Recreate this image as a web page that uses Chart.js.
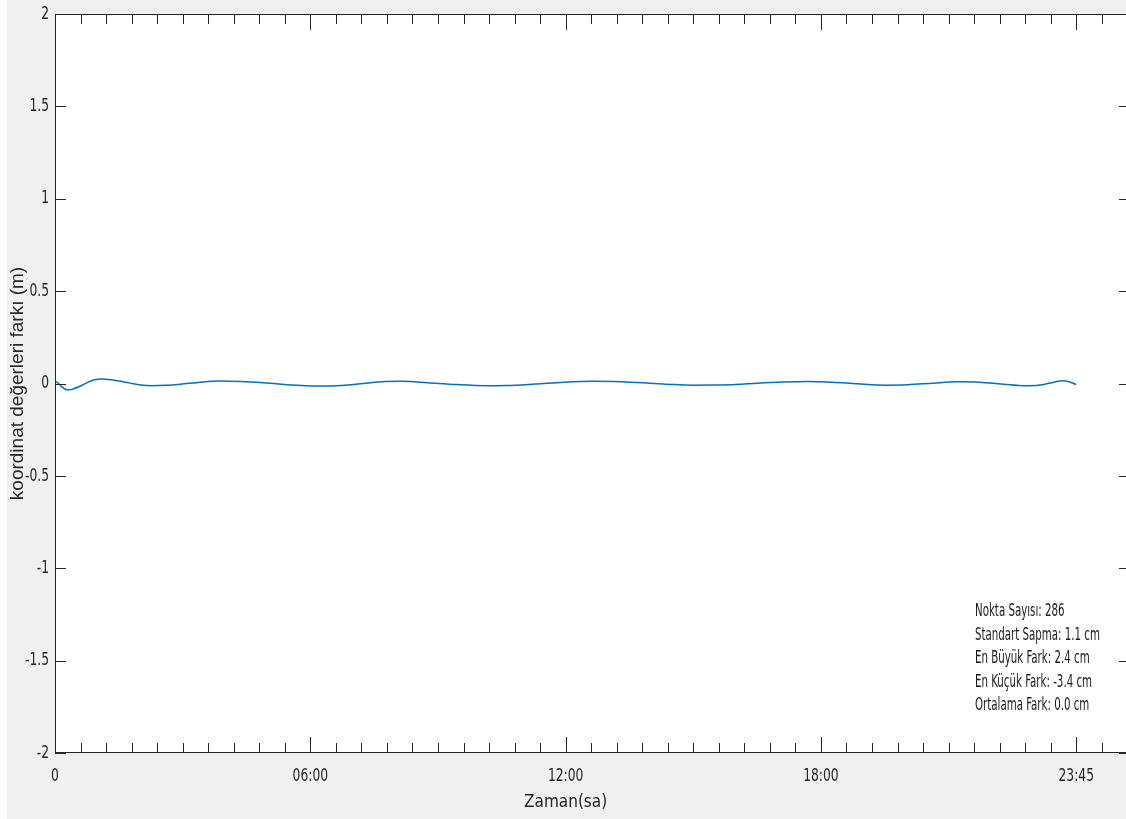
<!DOCTYPE html>
<html><head><meta charset="utf-8">
<script src="https://cdn.jsdelivr.net/npm/chart.js@4"></script>
<style>html,body{margin:0;padding:0;overflow:hidden;background:#fff;width:1126px;height:819px}canvas{display:block}</style>
</head><body><canvas id="c" width="1140" height="819"></canvas>
<script>
// x = sample index (0..285), y = coordinate difference in metres
const xIndex = [0,1,2,3,4,5,7,9,11,13,15,18,21,24,27,31,35,40,46,52,58,64,70,74,80,86,92,97,104,112,120,126,134,142,150,158,166,172,178,184,190,196,203,210,217,224,232,238,245,252,258,264,269,272,276,279,281,283,285];
const diffValues = [0.012,0.0,-0.02,-0.032,-0.034,-0.030,-0.015,0.005,0.020,0.024,0.022,0.013,0.002,-0.008,-0.012,-0.010,-0.004,0.006,0.014,0.011,0.004,-0.005,-0.012,-0.014,-0.011,0.000,0.011,0.012,0.004,-0.006,-0.012,-0.011,-0.003,0.007,0.012,0.010,0.002,-0.005,-0.009,-0.008,-0.005,0.002,0.008,0.011,0.007,-0.002,-0.009,-0.007,0.002,0.009,0.007,-0.003,-0.011,-0.012,-0.005,0.008,0.015,0.010,-0.006];
const yTickValues = [-2,-1.5,-1,-0.5,0,0.5,1,1.5,2];
const yTickLabels = ['-2','-1.5','-1','-0.5','0','0.5','1','1.5','2'];
const xTickValues = [0,71.25,142.5,213.75,285];
const xTickLabels = ['0','06:00','12:00','18:00','23:45'];
const xMinorStep = 7.125;
const statsLines = ['Nokta Sayısı: 286','Standart Sapma: 1.1 cm','En Büyük Fark: 2.4 cm','En Küçük Fark: -3.4 cm','Ortalama Fark: 0.0 cm'];

const NARROW = "'Liberation Sans Narrow','DejaVu Sans Condensed','Arial Narrow',sans-serif";
const AX = '#262626';

const points = xIndex.map((x, i) => ({x: x, y: diffValues[i]}));

function narrowText(ctx, text, x, y, align, sx) {
  ctx.save();
  ctx.translate(x, y);
  ctx.scale(sx, 1);
  ctx.textAlign = align;
  ctx.fillText(text, 0, 0);
  ctx.restore();
}

const framePlugin = {
  id: 'frame',
  beforeDraw(chart) {
    const {ctx, width, height, chartArea: a} = chart;
    ctx.save();
    ctx.fillStyle = '#ffffff';
    ctx.fillRect(0, 0, width, height);
    ctx.fillStyle = '#f0f0f0';
    ctx.fillRect(7, 0, width - 7, height);
    ctx.fillStyle = '#ffffff';
    ctx.fillRect(a.left, a.top, a.right - a.left, a.bottom - a.top);
    ctx.restore();
  },
  afterDraw(chart) {
    const {ctx, chartArea: a, scales} = chart;
    const xs = scales.x, ys = scales.y;
    ctx.save();
    ctx.strokeStyle = AX;
    ctx.lineWidth = 1;
    ctx.strokeRect(a.left + 0.5, a.top + 0.5, a.right - a.left - 1, a.bottom - a.top - 1);
    ctx.beginPath();
    yTickValues.forEach(v => {
      const py = Math.round(ys.getPixelForValue(v)) + 0.5;
      ctx.moveTo(a.left, py); ctx.lineTo(a.left + 11, py);
      ctx.moveTo(a.right - 11, py); ctx.lineTo(a.right, py);
    });
    for (let k = 0; k * xMinorStep <= xs.max + 1e-9; k++) {
      const v = k * xMinorStep;
      const px = Math.round(xs.getPixelForValue(v)) + 0.5;
      const major = xTickValues.some(t => Math.abs(t - v) < 1e-6);
      const len = major ? 16 : 10;
      ctx.moveTo(px, a.bottom); ctx.lineTo(px, a.bottom - len);
      ctx.moveTo(px, a.top); ctx.lineTo(px, a.top + len);
    }
    ctx.stroke();

    // tick labels, placed from the chart's own scales
    ctx.fillStyle = AX;
    ctx.font = '18px ' + NARROW;
    ctx.textBaseline = 'middle';
    yTickValues.forEach((v, i) => narrowText(ctx, yTickLabels[i], a.left - 6, ys.getPixelForValue(v), 'right', 0.76));
    xTickValues.forEach((v, i) => narrowText(ctx, xTickLabels[i], xs.getPixelForValue(v), a.bottom + 23, 'center', 0.76));

    // x axis title
    ctx.font = '17px ' + NARROW;
    narrowText(ctx, 'Zaman(sa)', xs.getPixelForValue(142.5), a.bottom + 50, 'center', 1);

    // statistics box
    ctx.fillStyle = '#1a1a1a';
    ctx.font = '17px ' + NARROW;
    statsLines.forEach((s, i) => narrowText(ctx, s, 975, 612 + i * 23.5, 'left', 0.67));
    ctx.restore();
  }
};

new Chart(document.getElementById('c'), {
  type: 'scatter',
  data: {
    datasets: [{
      data: points,
      showLine: true,
      borderColor: '#0072BD',
      borderWidth: 1.5,
      pointRadius: 0,
      cubicInterpolationMode: 'monotone',
      fill: false
    }]
  },
  options: {
    responsive: false,
    animation: false,
    devicePixelRatio: 1,
    layout: {padding: {top: 14, right: 10, left: 0, bottom: 0}},
    plugins: {legend: {display: false}, tooltip: {enabled: false}},
    scales: {
      x: {
        type: 'linear', min: 0, max: 300,
        grid: {display: false, drawTicks: false},
        border: {display: false},
        afterFit(s) { s.height = 66; },
        afterBuildTicks(s) { s.ticks = xTickValues.map(v => ({value: v})); },
        ticks: {display: false}
      },
      y: {
        type: 'linear', min: -2, max: 2,
        grid: {display: false, drawTicks: false},
        border: {display: false},
        afterFit(s) { s.width = 55; },
        afterBuildTicks(s) { s.ticks = yTickValues.map(v => ({value: v})); },
        ticks: {display: false},
        title: {display: true, text: 'koordinat değerleri farkı (m)', color: AX, font: {family: "'Liberation Sans', Arial, sans-serif", size: 19}, padding: {top: 6, bottom: 0}}
      }
    }
  },
  plugins: [framePlugin]
});
</script>
</body></html>
